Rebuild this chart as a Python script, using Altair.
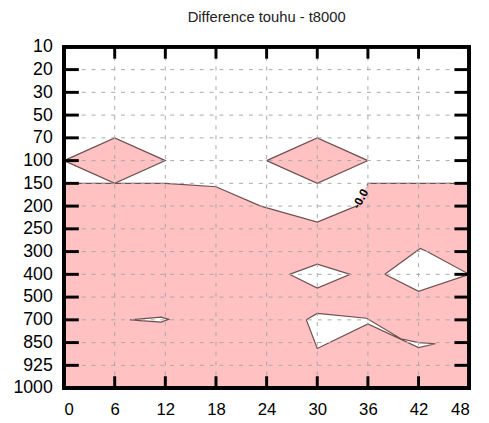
import altair as alt
import pandas as pd

hours = [0, 6, 12, 18, 24, 30, 36, 42, 48]
levels = ['10', '20', '30', '50', '70', '100', '150', '200', '250', '300',
          '400', '500', '700', '850', '925', '1000']
level_idx = list(range(len(levels)))

# zero contour (pink below)
bnd_x = [0, 6, 12, 18, 23.3, 30, 34.6, 35.9, 36, 48]
bnd_y = [6.0, 6.0, 6.0, 6.15, 7.0, 7.7, 7.0, 6.1, 6.0, 6.0]
bnd_seg = ['a', 'a', 'a', 'a', 'a', 'a', 'a', 'b', 'b', 'b']

# pink closed contours in the white area
pink_polys = {
    'p1': ([0, 6, 12, 6], [5, 4, 5, 6]),
    'p2': ([24, 30, 36, 30], [5, 4, 5, 6]),
}
# white closed contours in the pink area
white_polys = {
    'h1': ([26.7, 30, 33.9, 30], [10, 9.55, 10, 10.6]),
    'h2': ([38, 42.2, 43, 48, 42], [10, 8.86, 9.0, 10, 10.75]),
    'h3': ([28.7, 30, 35.85, 39.9, 42, 44, 42, 36, 30],
           [12.0, 11.72, 11.93, 12.83, 13.0, 13.05, 13.22, 12.18, 13.26]),
    'h4': ([7.8, 11.5, 12.4, 11.5], [12.0, 11.88, 11.98, 12.1]),
}
label_x = [35.1]
label_y = [6.68]
label_txt = ['-0.0']

PINK = '#ffc1c1'
LINE = '#6e5050'
FONT = 'Liberation Sans'
W, H = 412, 347
XTL = 0.52   # inward x-tick length (level units)
YTL = 1.75   # inward y-tick length (hours)


def poly_df(polys):
    rows = []
    for pid, (xs, ys) in polys.items():
        pts = list(zip(xs, ys)) + [(xs[0], ys[0])]
        for i, (x, y) in enumerate(pts):
            rows.append({'pid': pid, 'o': i, 'x': x, 'y': y})
    return pd.DataFrame(rows)


bnd = pd.DataFrame({'x': bnd_x, 'y': bnd_y, 'seg': bnd_seg})
pinkdf = poly_df(pink_polys)
whitedf = poly_df(white_polys)
labdf = pd.DataFrame({'x': label_x, 'y': label_y, 't': label_txt})

# tick segments as two-point lines, derived from the tick positions
tk_rows = []
for h in hours:
    tk_rows += [{'tid': 'b%s' % h, 'o': 0, 'x': h, 'y': 15},
                {'tid': 'b%s' % h, 'o': 1, 'x': h, 'y': 15 - XTL},
                {'tid': 't%s' % h, 'o': 0, 'x': h, 'y': 0},
                {'tid': 't%s' % h, 'o': 1, 'x': h, 'y': XTL}]
for l in level_idx:
    tk_rows += [{'tid': 'l%s' % l, 'o': 0, 'x': 0, 'y': l},
                {'tid': 'l%s' % l, 'o': 1, 'x': YTL, 'y': l},
                {'tid': 'r%s' % l, 'o': 0, 'x': 48, 'y': l},
                {'tid': 'r%s' % l, 'o': 1, 'x': 48 - YTL, 'y': l}]
tkdf = pd.DataFrame(tk_rows)
hdf = pd.DataFrame({'h': hours})
ldf = pd.DataFrame({'l': level_idx})

lab_expr = '[' + ','.join("'%s'" % l for l in levels) + '][datum.value]'

xs = alt.Scale(domain=[0, 48], nice=False, zero=False)
ys = alt.Scale(domain=[0, 15], reverse=True, nice=False, zero=False)

ax_bottom = alt.Axis(orient='bottom', values=hours, title=None, grid=False, domain=False,
                     ticks=False, tickSize=0, labelFontSize=17, labelFont=FONT,
                     labelColor='black', labelPadding=14, zindex=1)
ax_left = alt.Axis(orient='left', values=level_idx, labelExpr=lab_expr, title=None,
                   grid=False, domain=False, ticks=False, tickSize=0,
                   labelFontSize=18, labelFont=FONT, labelColor='black',
                   labelPadding=12, zindex=1)


def X(field, axis=None):
    return alt.X(field, scale=xs, axis=axis)


def Y(field, axis=None):
    return alt.Y(field, scale=ys, axis=axis)


area = alt.Chart(bnd).mark_area(color=PINK, opacity=1).encode(
    x=X('x:Q', ax_bottom), y=Y('y:Q', ax_left), y2=alt.datum(15))

pinkp = alt.Chart(pinkdf).mark_line(fill=PINK, stroke=LINE, strokeWidth=1.2).encode(
    x=X('x:Q'), y=Y('y:Q'), detail='pid:N', order='o:Q')

whitep = alt.Chart(whitedf).mark_line(fill='white', stroke=LINE, strokeWidth=1.2).encode(
    x=X('x:Q'), y=Y('y:Q'), detail='pid:N', order='o:Q')

bline = alt.Chart(bnd).mark_line(stroke=LINE, strokeWidth=1.2).encode(
    x=X('x:Q'), y=Y('y:Q'), detail='seg:N')

vgrid = alt.Chart(hdf).mark_rule(color='#a8a8a8', strokeDash=[4, 6], strokeWidth=1).encode(
    x=X('h:Q'))
hgrid = alt.Chart(ldf).mark_rule(color='#a8a8a8', strokeDash=[4, 6], strokeWidth=1).encode(
    y=Y('l:Q'))

txt = alt.Chart(labdf).mark_text(angle=299, fontSize=12, fontWeight='bold',
                                 font=FONT, color='black').encode(
    x=X('x:Q'), y=Y('y:Q'), text='t:N')

ticks = alt.Chart(tkdf).mark_line(stroke='#000000', strokeWidth=3,
                                  strokeCap='butt').encode(
    x=X('x:Q'), y=Y('y:Q'), detail='tid:N', order='o:Q')

frame = alt.Chart(hdf).mark_rect(fillOpacity=0, stroke='black', strokeWidth=3).encode(
    x=alt.datum(0, scale=xs, axis=None), x2=alt.datum(48),
    y=alt.datum(0, scale=ys, axis=None), y2=alt.datum(15))

chart = alt.layer(area, bline, pinkp, whitep, vgrid, hgrid, txt,
                  ticks, frame).resolve_axis(
    x='independent', y='independent'
).properties(
    width=W, height=H,
    title=alt.TitleParams('Difference touhu - t8000', fontSize=15, font=FONT,
                          fontWeight='normal', color='#222222', offset=13),
    padding={'left': 57, 'top': 36, 'right': 12, 'bottom': 32},
    autosize=alt.AutoSizeParams(type='none'),
).configure_view(stroke=None)

chart.save('out.html', embed_options={'renderer': 'svg', 'actions': False})
